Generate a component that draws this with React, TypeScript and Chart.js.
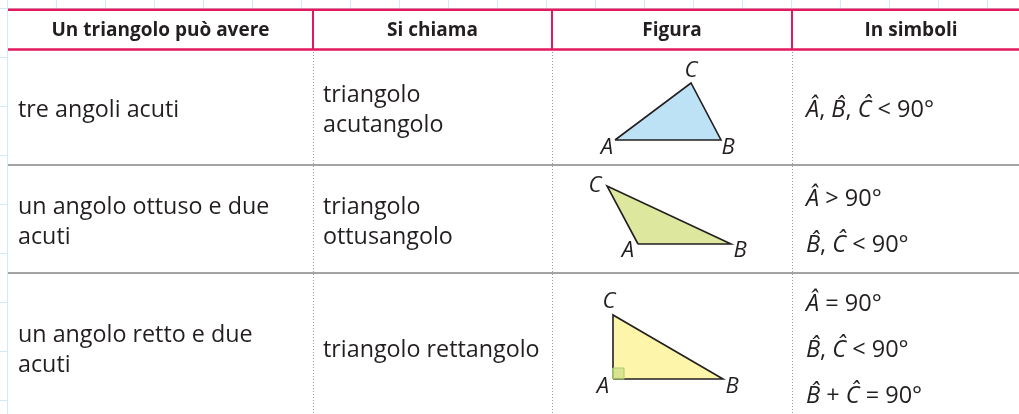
import React, { useEffect, useRef } from "react";
import { Chart, registerables } from "chart.js";

Chart.register(...registerables);

// ---------- data ----------
const headers = ["Un triangolo può avere", "Si chiama", "Figura", "In simboli"];
const conditions = [["tre angoli acuti"], ["un angolo ottuso e due", "acuti"], ["un angolo retto e due", "acuti"]];
const names = [["triangolo", "acutangolo"], ["triangolo", "ottusangolo"], ["triangolo rettangolo"]];
const symbols = [
  ["Â, B\u0302, Ĉ < 90°"],
  ["Â > 90°", "B\u0302, Ĉ < 90°"],
  ["Â = 90°", "B\u0302, Ĉ < 90°", "B\u0302 + Ĉ = 90°"],
];
const vertexNames = ["A", "B", "C"];
// triangle vertices A, B, C (figure coordinates)
const acuteTriangle = [
  { x: 615, y: 140 },
  { x: 721, y: 140 },
  { x: 691, y: 83 },
];
const obtuseTriangle = [
  { x: 638, y: 244 },
  { x: 731, y: 244 },
  { x: 607, y: 186 },
];
const rightTriangle = [
  { x: 613, y: 379 },
  { x: 723, y: 379 },
  { x: 613, y: 315 },
];
const rightAngleMark = [
  { x: 613, y: 379 },
  { x: 624, y: 379 },
  { x: 624, y: 368 },
  { x: 613, y: 368 },
];

// ---------- layout / style ----------
const W = 1019;
const H = 414;
const COLS = [8, 313, 552, 792, 1030];
const ROWS = [9, 49, 165, 273, 421];
const FILLS = ["#bee2f5", "#dde79d", "#fdf5a9"];
const LABEL_OFFSETS = [
  [[-8, 8], [7, 8], [0, -12]],
  [[-10, 7], [9, 7], [-12, 0]],
  [[-10, 8], [9, 8], [-4, -13]],
];
const TEXT = "#231f20";
const RED = "#e2195a";
const FONT = "'Open Sans', 'Noto Sans', sans-serif";

const triangles = [acuteTriangle, obtuseTriangle, rightTriangle];

function drawSymbolLine(ctx: CanvasRenderingContext2D, s: string, x0: number, yb: number) {
  const chars = Array.from(s);
  let x = x0;
  let i = 0;
  while (i < chars.length) {
    let seg = chars[i];
    const isLetter = /[A-CÂĈ]/.test(seg);
    if (isLetter && chars[i + 1] === "\u0302") {
      seg += chars[i + 1];
      i++;
    }
    i++;
    ctx.font = (isLetter ? "italic " : "") + "23.5px " + FONT;
    ctx.fillText(seg, x, yb);
    x += ctx.measureText(seg).width;
  }
}

const tablePlugin = {
  id: "tablePlugin",
  beforeDatasetsDraw(chart: any) {
    const { ctx, scales } = chart;
    const px = (v: number) => scales.x.getPixelForValue(v);
    const py = (v: number) => scales.y.getPixelForValue(v);
    ctx.save();
    // background grid paper
    ctx.strokeStyle = "#d4e9f8";
    ctx.lineWidth = 1;
    for (let gx = 7; gx <= W; gx += 49) {
      ctx.beginPath();
      ctx.moveTo(Math.round(px(gx)) + 0.5, py(0));
      ctx.lineTo(Math.round(px(gx)) + 0.5, py(H));
      ctx.stroke();
    }
    for (let gy = 8; gy <= H; gy += 49) {
      ctx.beginPath();
      ctx.moveTo(px(0), Math.round(py(gy)) + 0.5);
      ctx.lineTo(px(W), Math.round(py(gy)) + 0.5);
      ctx.stroke();
    }
    // table background
    ctx.fillStyle = "#ffffff";
    ctx.fillRect(px(COLS[0]), py(ROWS[0]), px(W) - px(COLS[0]), py(H) - py(ROWS[0]));

    // dotted column separators in body
    ctx.strokeStyle = "#9b9b9b";
    ctx.lineWidth = 1;
    ctx.setLineDash([1, 2]);
    for (let c = 1; c < 4; c++) {
      ctx.beginPath();
      ctx.moveTo(Math.round(px(COLS[c])) + 0.5, py(ROWS[1]));
      ctx.lineTo(Math.round(px(COLS[c])) + 0.5, py(H));
      ctx.stroke();
    }
    ctx.setLineDash([]);
    // row separators
    ctx.strokeStyle = "#a3a3a3";
    ctx.lineWidth = 2;
    for (let r = 2; r < 4; r++) {
      ctx.beginPath();
      ctx.moveTo(px(COLS[0]), py(ROWS[r]));
      ctx.lineTo(px(W), py(ROWS[r]));
      ctx.stroke();
    }
    // header red lines
    ctx.strokeStyle = RED;
    ctx.lineWidth = 2.5;
    [ROWS[0] + 0.8, ROWS[1] + 0.6].forEach((yy) => {
      ctx.beginPath();
      ctx.moveTo(px(COLS[0]), py(yy));
      ctx.lineTo(px(W), py(yy));
      ctx.stroke();
    });
    ctx.lineWidth = 2;
    for (let c = 1; c < 4; c++) {
      ctx.beginPath();
      ctx.moveTo(px(COLS[c]), py(ROWS[0]));
      ctx.lineTo(px(COLS[c]), py(ROWS[1] + 1));
      ctx.stroke();
    }

    // header text
    ctx.fillStyle = TEXT;
    ctx.textBaseline = "alphabetic";
    ctx.textAlign = "center";
    ctx.font = "bold 19px " + FONT;
    headers.forEach((h, c) => {
      ctx.fillText(h, px((COLS[c] + COLS[c + 1]) / 2), py(ROWS[0] + 26.5));
    });

    // body text
    ctx.textAlign = "left";
    for (let r = 0; r < 3; r++) {
      const mid = (ROWS[r + 1] + ROWS[r + 2]) / 2 + 10;
      const cellLines = (lines: string[], col: number, pad: number) => {
        const lh = 30.5;
        lines.forEach((ln, k) => {
          const yb = mid + (k - (lines.length - 1) / 2) * lh;
          ctx.font = "23.3px " + FONT;
          ctx.fillText(ln, px(COLS[col] + pad), py(yb));
        });
      };
      cellLines(conditions[r], 0, 10);
      cellLines(names[r], 1, 10);
      const sl = symbols[r];
      sl.forEach((ln, k) => {
        const yb = mid + (k - (sl.length - 1) / 2) * 46;
        drawSymbolLine(ctx, ln, px(COLS[3] + 14), py(yb));
      });
    }
    ctx.restore();
  },
  afterDatasetsDraw(chart: any) {
    const { ctx, scales } = chart;
    const px = (v: number) => scales.x.getPixelForValue(v);
    const py = (v: number) => scales.y.getPixelForValue(v);
    ctx.save();
    ctx.fillStyle = TEXT;
    ctx.textAlign = "center";
    ctx.textBaseline = "middle";
    ctx.font = "italic 22px " + FONT;
    triangles.forEach((tri, t) => {
      tri.forEach((v, k) => {
        const [dx, dy] = LABEL_OFFSETS[t][k];
        ctx.fillText(vertexNames[k], px(v.x + dx), py(v.y + dy));
      });
    });
    ctx.restore();
  },
};

export default function App() {
  const ref = useRef<HTMLCanvasElement | null>(null);
  useEffect(() => {
    if (!ref.current) return;
    const datasets: any[] = triangles.map((tri, t) => ({
      data: [...tri, tri[0]],
      showLine: true,
      fill: "shape",
      backgroundColor: FILLS[t],
      borderColor: TEXT,
      borderWidth: 1.6,
      borderJoinStyle: "miter",
      pointRadius: 0,
      tension: 0,
      clip: false,
      order: 1,
    }));
    datasets.push({
      data: [...rightAngleMark, rightAngleMark[0]],
      showLine: true,
      fill: "shape",
      backgroundColor: "rgba(190,214,120,0.55)",
      borderColor: "#a9cc6c",
      borderWidth: 1,
      pointRadius: 0,
      tension: 0,
      clip: false,
      order: 0,
    });
    const chart = new Chart(ref.current, {
      type: "scatter",
      data: { datasets },
      options: {
        animation: false,
        responsive: false,
        maintainAspectRatio: false,
        layout: { padding: 0 },
        plugins: { legend: { display: false }, tooltip: { enabled: false } },
        scales: {
          x: { type: "linear", min: 0, max: W, display: false },
          y: { type: "linear", min: 0, max: H, reverse: true, display: false },
        },
      },
      plugins: [tablePlugin],
    } as any);
    return () => chart.destroy();
  }, []);
  return (
    <div style={{ position: "fixed", left: 0, top: 0, width: W, height: H, background: "#fff" }}>
      <canvas ref={ref} width={W} height={H} style={{ width: W, height: H, display: "block" }} />
    </div>
  );
}
